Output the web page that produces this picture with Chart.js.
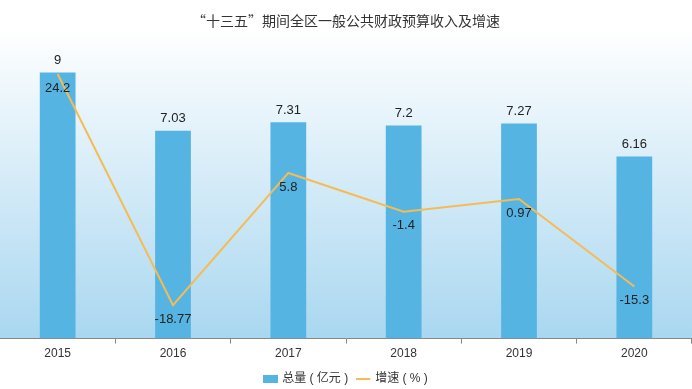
<!DOCTYPE html>
<html>
<head>
<meta charset="utf-8">
<script src="https://cdn.jsdelivr.net/npm/chart.js@4"></script>
<style>
  html, body { margin: 0; padding: 0; background: #fff; }
  #wrap { width: 692px; height: 389px; }
</style>
</head>
<body>
<div id="wrap"><canvas id="chart"></canvas></div>
<script>
const years = ['2015', '2016', '2017', '2018', '2019', '2020'];
const totals = [9, 7.03, 7.31, 7.2, 7.27, 6.16];
const growth = [24.2, -18.77, 5.8, -1.4, 0.97, -15.3];

const fontFamily = '"Liberation Sans", "Noto Sans CJK SC", sans-serif';
const barColor = '#56b4e3';
const lineColor = '#f5bb55';

// flat rectangle used as the legend marker for the bars
const barMarker = document.createElement('canvas');
barMarker.width = 15;
barMarker.height = 8;
const mctx = barMarker.getContext('2d');
mctx.fillStyle = barColor;
mctx.fillRect(0, 0, 15, 8);

// light gradient behind the plot area
const bgPlugin = {
    id: 'bgGradient',
    beforeDraw(chart) {
        const { ctx, chartArea } = chart;
        const g = ctx.createLinearGradient(0, chartArea.top - 15, 0, chartArea.bottom);
        g.addColorStop(0, '#ffffff');
        g.addColorStop(1, '#a9d7f0');
        ctx.save();
        ctx.fillStyle = g;
        ctx.fillRect(0, chartArea.top - 15, chart.width, chartArea.bottom - chartArea.top + 15);
        ctx.restore();
    }
};

// value labels: above the bars, below the line points
const labelPlugin = {
    id: 'valueLabels',
    afterDatasetsDraw(chart) {
        const ctx = chart.ctx;
        ctx.save();
        ctx.font = '13px ' + fontFamily;
        ctx.fillStyle = '#222';
        ctx.textAlign = 'center';
        ctx.textBaseline = 'middle';
        chart.getDatasetMeta(0).data.forEach((el, i) => {
            ctx.fillText(totals[i], el.x, el.y - 12);
        });
        chart.getDatasetMeta(1).data.forEach((el, i) => {
            ctx.fillText(growth[i], el.x, el.y + 14);
        });
        ctx.restore();
    }
};

new Chart(document.getElementById('chart'), {
    data: {
        labels: years,
        datasets: [{
            type: 'bar',
            label: '总量 ( 亿元 )',
            data: totals,
            backgroundColor: barColor,
            barPercentage: 0.62,
            categoryPercentage: 0.5,
            yAxisID: 'y',
            pointStyle: barMarker,
            order: 2
        }, {
            type: 'line',
            label: '增速 ( % )',
            data: growth,
            borderColor: lineColor,
            backgroundColor: lineColor,
            borderWidth: 2,
            pointRadius: 0,
            tension: 0,
            yAxisID: 'y1',
            pointStyle: 'line',
            order: 1
        }]
    },
    options: {
        responsive: true,
        maintainAspectRatio: false,
        animation: false,
        layout: { padding: { left: 0, right: 0, top: 0, bottom: -6 } },
        plugins: {
            title: {
                display: true,
                text: '“十三五”期间全区一般公共财政预算收入及增速',
                color: '#333',
                font: { family: '"Noto Sans CJK SC", sans-serif', size: 14, weight: 'normal' },
                padding: { top: 12, bottom: 14 }
            },
            legend: {
                position: 'bottom',
                labels: {
                    usePointStyle: true,
                    boxWidth: 14,
                    boxHeight: 10,
                    color: '#333',
                    font: { family: fontFamily, size: 12 },
                    padding: 9,
                    sort: (a, b) => a.datasetIndex - b.datasetIndex
                }
            },
            tooltip: { enabled: false }
        },
        scales: {
            x: {
                offset: true,
                grid: {
                    offset: true,
                    drawOnChartArea: false,
                    tickLength: 5,
                    color: '#888'
                },
                border: { color: '#888' },
                ticks: { color: '#333', font: { family: fontFamily, size: 12 }, padding: 3 }
            },
            y: {
                display: false,
                min: 0,
                max: 10
            },
            y1: {
                display: false,
                position: 'right',
                min: -25,
                max: 30
            }
        }
    },
    plugins: [bgPlugin, labelPlugin]
});
</script>
</body>
</html>
